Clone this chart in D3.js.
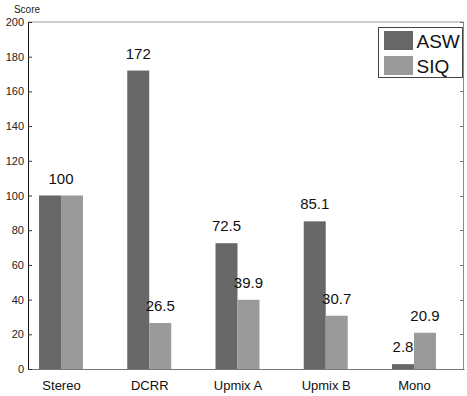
<!DOCTYPE html>
<html>
<head>
<meta charset="utf-8">
<script src="https://cdn.jsdelivr.net/npm/d3@7"></script>
<style>
  body { margin: 0; background: #fff; }
  text { font-family: "Liberation Sans", Arial, sans-serif; }
</style>
</head>
<body>
<div id="chart"></div>
<script>
// data
const categories = ["Stereo", "DCRR", "Upmix A", "Upmix B", "Mono"];
const seriesNames = ["ASW", "SIQ"];
const aswValues = [100, 172, 72.5, 85.1, 2.8];
const siqValues = [100, 26.5, 39.9, 30.7, 20.9];
const yTicks = [0, 20, 40, 60, 80, 100, 120, 140, 160, 180, 200];

const W = 467, H = 396;
const margin = { left: 28, right: 3, top: 22, bottom: 27 };
const colors = { ASW: "#676767", SIQ: "#9a9a9a" };

const svg = d3.select("#chart").append("svg")
  .attr("width", W).attr("height", H);

// category index scale (MATLAB-like numeric x axis)
const x = d3.scaleLinear()
  .domain([0.626, 5.567])
  .range([margin.left, W - margin.right]);
const y = d3.scaleLinear()
  .domain([0, 200])
  .range([H - margin.bottom, margin.top]);

const barW = 0.249; // in category units

// bars
const rows = categories.map((c, i) => ({ c, i: i + 1, ASW: aswValues[i], SIQ: siqValues[i] }));
seriesNames.forEach((s, k) => {
  svg.append("g").selectAll("rect")
    .data(rows)
    .enter()
    .append("rect")
    .attr("x", d => x(d.i - barW + k * barW))
    .attr("width", x(barW) - x(0))
    .attr("y", d => y(d[s]))
    .attr("height", d => y(0) - y(d[s]))
    .attr("fill", colors[s]);
});

// value labels: shared label when both equal, otherwise one per bar
const labels = [];
rows.forEach(d => {
  if (d.ASW === d.SIQ) {
    labels.push({ xv: d.i, v: d.ASW });
  } else {
    labels.push({ xv: d.i - barW / 2, v: d.ASW });
    labels.push({ xv: d.i + barW / 2, v: d.SIQ });
  }
});
svg.append("g").selectAll("text")
  .data(labels)
  .enter()
  .append("text")
  .attr("x", d => x(d.xv))
  .attr("y", d => y(d.v) - 12)
  .attr("text-anchor", "middle")
  .style("font-size", "15px")
  .attr("fill", "#111")
  .text(d => d.v);

// frame: top and right in grey
const x0 = x.range()[0], x1 = x.range()[1];
svg.append("line").attr("x1", x0).attr("x2", x1).attr("y1", y(200)).attr("y2", y(200))
  .attr("stroke", "#9a9a9a");
svg.append("line").attr("x1", x1 - 0.5).attr("x2", x1 - 0.5).attr("y1", y(200)).attr("y2", y(0))
  .attr("stroke", "#8a8a8a");

// right inner ticks
svg.append("g").selectAll("line")
  .data(yTicks)
  .enter()
  .append("line")
  .attr("x1", x1 - 4).attr("x2", x1)
  .attr("y1", d => Math.round(y(d)) + 0.5).attr("y2", d => Math.round(y(d)) + 0.5)
  .attr("stroke", "#777");

// bottom axis
const xAxis = svg.append("g")
  .attr("transform", `translate(0,${y(0)})`)
  .call(d3.axisBottom(x).tickValues(rows.map(d => d.i)).tickSize(0).tickFormat((d, i) => categories[i]));
xAxis.select(".domain").attr("stroke", "#777");
xAxis.selectAll("text").style("font-size", "13px").attr("fill", "#111").attr("dy", "1.1em").attr("y", 7);

// left axis with inward ticks
const yAxis = svg.append("g")
  .attr("transform", `translate(${x0},0)`)
  .call(d3.axisLeft(y).tickValues(yTicks).tickSizeInner(-4).tickSizeOuter(0).tickPadding(4));
yAxis.select(".domain").attr("stroke", "#111");
yAxis.selectAll(".tick line").attr("stroke", "#333");
yAxis.selectAll("text").style("font-size", "11px").attr("fill", "#222");

// y label
svg.append("text")
  .attr("x", 27).attr("y", 13)
  .attr("text-anchor", "middle")
  .style("font-size", "10px")
  .attr("fill", "#222")
  .text("Score");

// legend
const legend = svg.append("g").attr("transform", "translate(378.5,27.5)");
legend.append("rect")
  .attr("width", 84).attr("height", 50)
  .attr("fill", "#fff").attr("stroke", "#444");
seriesNames.forEach((s, k) => {
  legend.append("rect")
    .attr("x", 5.5).attr("y", 3.5 + k * 25)
    .attr("width", 29).attr("height", 19)
    .attr("fill", colors[s]);
  legend.append("text")
    .attr("x", 38).attr("y", 20 + k * 25)
    .style("font-size", "19px")
    .attr("fill", "#111")
    .text(s);
});
</script>
</body>
</html>
